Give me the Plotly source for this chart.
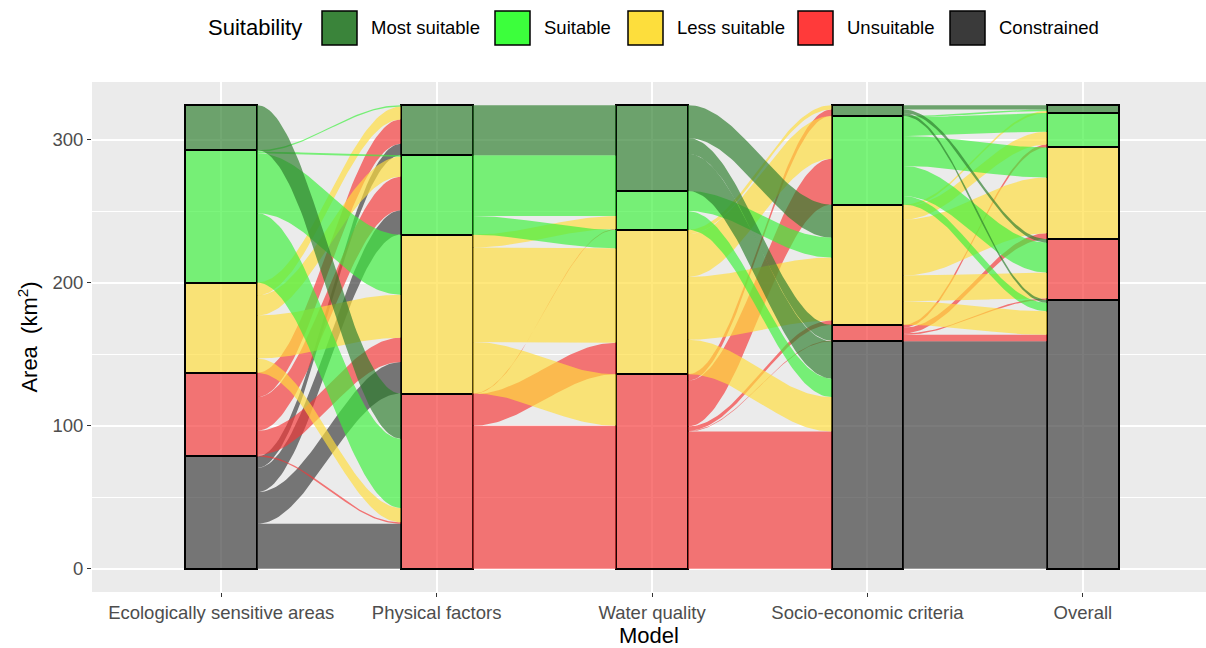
import numpy as np
import plotly.graph_objects as go

# ---------------------------------------------------------------- data
models = [
    "Ecologically sensitive areas",
    "Physical factors",
    "Water quality",
    "Socio-economic criteria",
    "Overall",
]
# suitability classes, listed top-to-bottom as they stack in each column
classes = ["Most suitable", "Suitable", "Less suitable", "Unsuitable", "Constrained"]
MS, S, LS, U, C = classes

# area (km²) that moves from a class in one model to a class in the next
eco_to_physical = [
    (MS, U, 31.5),
    (S, MS, 1.0), (S, S, 1.0), (S, LS, 42.0), (S, U, 48.5),
    (LS, MS, 9.0), (LS, S, 14.0), (LS, LS, 30.0), (LS, U, 10.0),
    (U, MS, 17.0), (U, S, 23.5), (U, LS, 17.0), (U, U, 1.0),
    (C, MS, 8.0), (C, S, 17.0), (C, LS, 22.0), (C, U, 31.5),
]
physical_to_water = [
    (MS, MS, 35.0),
    (S, MS, 25.0), (S, S, 17.5), (S, LS, 13.0),
    (LS, S, 9.0), (LS, LS, 66.0), (LS, U, 36.0),
    (U, S, 0.5), (U, LS, 22.0), (U, U, 100.0),
]
water_to_socio = [
    (MS, LS, 23.0), (MS, U, 11.0), (MS, C, 26.0),
    (S, LS, 14.0), (S, C, 13.0),
    (LS, MS, 3.0), (LS, S, 30.0), (LS, LS, 44.0), (LS, C, 24.0),
    (U, MS, 4.5), (U, S, 32.0), (U, LS, 3.0), (U, U, 0.5), (U, C, 96.0),
]
socio_to_overall = [
    (MS, MS, 3.0), (MS, U, 2.5), (MS, C, 2.0),
    (S, MS, 1.0), (S, S, 13.0), (S, LS, 21.0), (S, U, 21.0), (S, C, 6.0),
    (LS, MS, 1.5), (LS, S, 9.0), (LS, LS, 39.0), (LS, U, 18.0), (LS, C, 16.5),
    (U, S, 2.0), (U, LS, 4.0), (U, U, 1.0), (U, C, 4.5),
    (C, C, 159.0),
]
transitions = [eco_to_physical, physical_to_water, water_to_socio, socio_to_overall]

y_ticks = [0, 100, 200, 300]

# ---------------------------------------------------------------- styles
base_rgb = {
    MS: (45, 125, 45),
    S: (60, 240, 60),
    LS: (255, 221, 60),
    U: (245, 55, 55),
    C: (58, 58, 58),
}
legend_rgb = {
    MS: (58, 132, 58),
    S: (60, 255, 60),
    LS: (253, 222, 60),
    U: (255, 58, 58),
    C: (58, 58, 58),
}
ALPHA = 0.67
FONT = "Liberation Sans, Arial, sans-serif"
W, H = 1206, 648
ML, MR, MT, MB = 92, 0, 82, 56
PW, PH = W - ML - MR, H - MT - MB
STEP_PX = 215.4          # pixel distance between neighbouring model columns
BOX_W = 1 / 3            # column width in axis units


def rgba(rgb, a=ALPHA):
    return f"rgba({rgb[0]},{rgb[1]},{rgb[2]},{a})"


# ---------------------------------------------------------------- column totals
totals = []
for i in range(len(models)):
    tot = {c: 0.0 for c in classes}
    if i < len(transitions):
        for src, _, v in transitions[i]:
            tot[src] += v
    else:
        for _, dst, v in transitions[i - 1]:
            tot[dst] += v
    totals.append(tot)

# top edge of each class inside each column (Constrained at the bottom)
tops = []
for tot in totals:
    acc = 0.0
    top = {}
    for c in reversed(classes):
        acc += tot[c]
        top[c] = acc
    tops.append(top)

fig = go.Figure()

# ---------------------------------------------------------------- flows
t = np.linspace(0, 1, 60)
ease = 0.5 - 0.5 * np.cos(np.pi * t)
order = {c: k for k, c in enumerate(classes)}

for i, trans in enumerate(transitions):
    xa = i + 1 + BOX_W / 2
    xb = i + 2 - BOX_W / 2
    xs = xa + (xb - xa) * t
    # left side: inside each source class, flows are stacked by target class
    left_pos = {}
    for src in classes:
        y = tops[i][src]
        for f in sorted([f for f in trans if f[0] == src], key=lambda f: order[f[1]]):
            left_pos[(f[0], f[1])] = (y, y - f[2])
            y -= f[2]
    # right side: inside each target class, flows are stacked by source class
    right_pos = {}
    for dst in classes:
        y = tops[i + 1][dst]
        for f in sorted([f for f in trans if f[1] == dst], key=lambda f: order[f[0]]):
            right_pos[(f[0], f[1])] = (y, y - f[2])
            y -= f[2]
    for src, dst, v in sorted(trans, key=lambda f: -order[f[0]]):
        l_top, l_bot = left_pos[(src, dst)]
        r_top, r_bot = right_pos[(src, dst)]
        upper = l_top + (r_top - l_top) * ease
        lower = l_bot + (r_bot - l_bot) * ease
        fig.add_trace(go.Scatter(
            x=np.concatenate([xs, xs[::-1]]),
            y=np.concatenate([upper, lower[::-1]]),
            fill="toself",
            fillcolor=rgba(base_rgb[src]),
            line=dict(width=0),
            mode="lines",
            hoverinfo="skip",
            showlegend=False,
        ))

# ---------------------------------------------------------------- strata
for c in reversed(classes):
    vals = [tot[c] if tot[c] > 0 else None for tot in totals]
    fig.add_trace(go.Bar(
        x=list(range(1, len(models) + 1)),
        y=vals,
        width=BOX_W,
        name=c,
        marker=dict(color=rgba(base_rgb[c]), line=dict(color="black", width=2)),
        showlegend=False,
    ))

# ---------------------------------------------------------------- legend
def px_x(px):
    return (px - ML) / PW


def px_y(py):
    return (H - MB - py) / PH


shapes = []
annotations = [dict(
    x=px_x(206), y=px_y(28), xref="paper", yref="paper",
    text="Suitability", showarrow=False, xanchor="left", yanchor="middle",
    font=dict(family=FONT, size=22, color="black"),
)]
key_left = [322, 495, 628, 798, 950]
for c, kx in zip(classes, key_left):
    shapes.append(dict(
        type="rect", xref="paper", yref="paper",
        x0=px_x(kx), x1=px_x(kx + 35), y0=px_y(45), y1=px_y(11),
        fillcolor=rgba(legend_rgb[c], 1), line=dict(color="black", width=1.5),
    ))
    annotations.append(dict(
        x=px_x(kx + 47), y=px_y(28), xref="paper", yref="paper",
        text=c, showarrow=False, xanchor="left", yanchor="middle",
        font=dict(family=FONT, size=18.5, color="black"),
    ))

# ---------------------------------------------------------------- layout
x_lo = 1 - 0.6
x_hi = x_lo + PW / STEP_PX
span = sum(totals[0].values())
pad = 0.05 * span

fig.update_layout(
    width=W, height=H,
    margin=dict(l=ML, r=MR, t=MT, b=MB, pad=0),
    paper_bgcolor="white",
    plot_bgcolor="#EBEBEB",
    barmode="stack",
    bargap=0,
    shapes=shapes,
    annotations=annotations,
    font=dict(family=FONT),
    xaxis=dict(
        range=[x_lo, x_hi],
        tickmode="array",
        tickvals=list(range(1, len(models) + 1)),
        ticktext=models,
        tickfont=dict(size=18.5, color="#4D4D4D", family=FONT),
        ticks="outside", ticklen=4, tickcolor="#333333", tickwidth=1,
        showgrid=True, gridcolor="white", gridwidth=1.5,
        zeroline=False, showline=False,
        title=dict(text="Model", font=dict(size=22, color="black", family=FONT), standoff=4),
    ),
    yaxis=dict(
        range=[-pad, span + pad],
        tickmode="array",
        tickvals=y_ticks,
        tickfont=dict(size=18.5, color="#4D4D4D", family=FONT),
        ticks="outside", ticklen=4, tickcolor="#333333", tickwidth=1,
        showgrid=True, gridcolor="white", gridwidth=1.5,
        minor=dict(tickmode="array", tickvals=[50, 150, 250],
                   showgrid=True, gridcolor="white", gridwidth=0.8, ticks=""),
        zeroline=False, showline=False,
        title=dict(text="Area  (km<sup>2</sup>)", font=dict(size=22, color="black", family=FONT),
                   standoff=8),
    ),
)

fig.write_html("out.html")
